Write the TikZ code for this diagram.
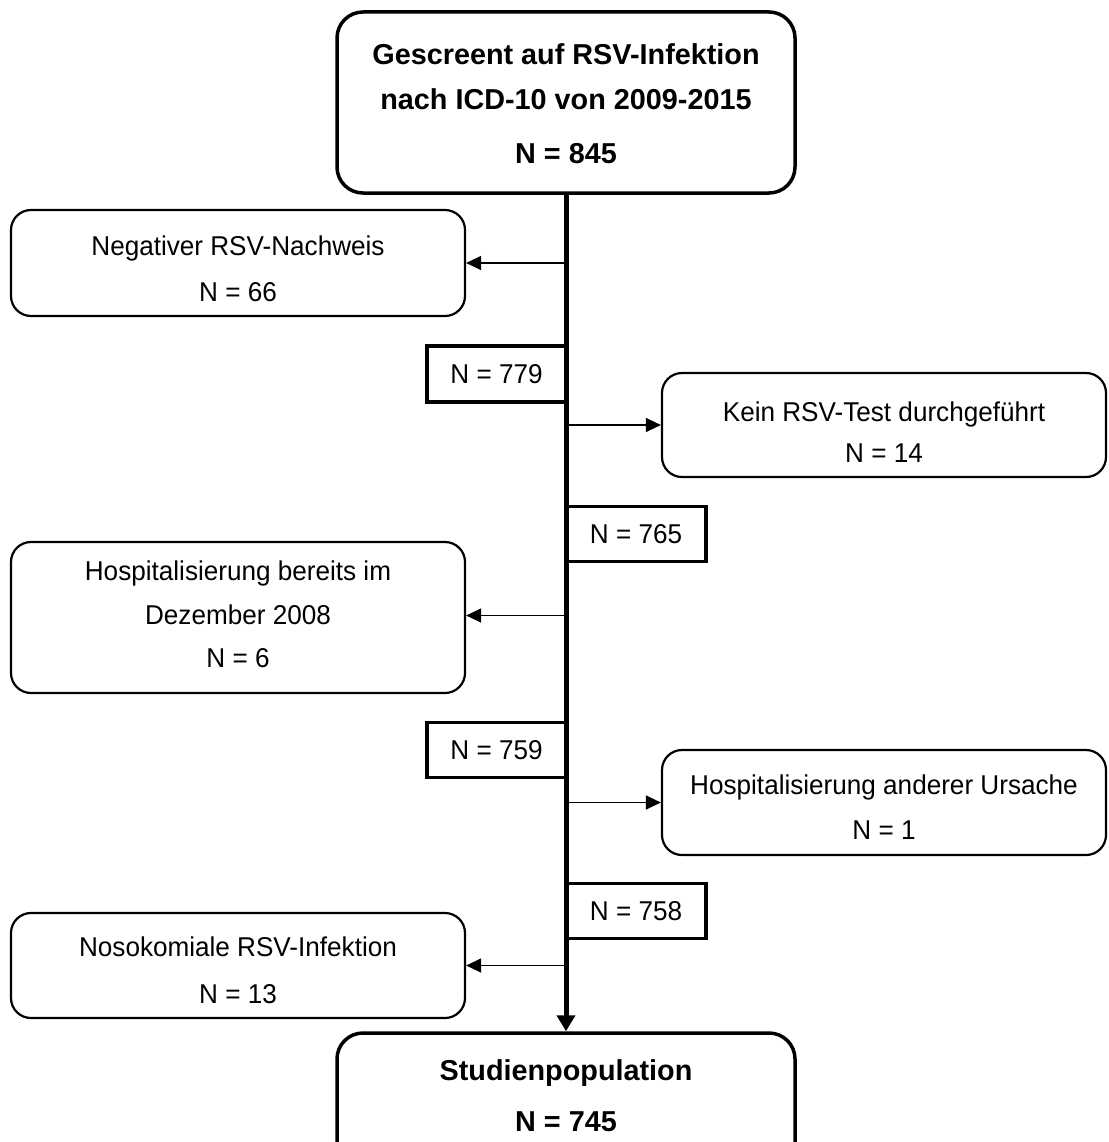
\documentclass[tikz,border=0pt]{standalone}
\usepackage{fontspec}
\setmainfont{Liberation Sans}
\newfontfamily\regfont[FakeStretch=0.96]{Liberation Sans}
\usetikzlibrary{arrows.meta,calc}
\begin{document}
\begin{tikzpicture}[x=1pt,y=-1pt,
  sidebox/.style={draw, line width=2.2pt, rounded corners=20pt, inner sep=0pt},
  bigbox/.style={draw, line width=3.5pt, rounded corners=26pt, inner sep=0pt},
  countbox/.style={draw, line width=3.5pt, inner sep=0pt, font=\regfont\fontsize{27.2}{30}\selectfont},
  txt/.style={align=center, inner sep=0pt},
  thinarrow/.style={line width=1.3pt, -{Triangle[length=15pt,width=14pt]}},
  mainarrow/.style={line width=5pt, -{Triangle[length=16pt,width=18pt]}}]
\useasboundingbox (0,0) rectangle (1108,1142);
\clip (0,0) rectangle (1108,1142);

% main boxes
\node[bigbox, minimum width=458pt, minimum height=181pt] (top) at (566,102.5) {};
\node[txt, font=\fontsize{28.8}{45}\selectfont\bfseries] (topT) at (566,104)
  {Gescreent auf RSV-Infektion\\nach ICD-10 von 2009-2015\\[9pt]N = 845};

\node[bigbox, minimum width=458pt, minimum height=180pt] (stud) at (566,1123) {};
\node[txt, font=\fontsize{28.8}{51}\selectfont\bfseries] (studT) at (566,1096)
  {Studienpopulation\\N = 745};

% side boxes
\node[sidebox, minimum width=454pt, minimum height=106pt] (neg) at (238,263) {};
\node[txt, font=\regfont\fontsize{27.2}{46}\selectfont] (negT) at (238,269)
  {Negativer RSV-Nachweis\\N = 66};

\node[sidebox, minimum width=444pt, minimum height=104pt] (kein) at (884,425) {};
\node[txt, font=\regfont\fontsize{27.2}{41}\selectfont] (keinT) at (884,432)
  {Kein RSV-Test durchgeführt\\N = 14};

\node[sidebox, minimum width=454pt, minimum height=151pt] (hosp) at (238,617.5) {};
\node[txt, font=\regfont\fontsize{27.2}{43.5}\selectfont] (hospT) at (238,614.5)
  {Hospitalisierung bereits im\\Dezember 2008\\N = 6};

\node[sidebox, minimum width=444pt, minimum height=105pt] (hospa) at (884,802.5) {};
\node[txt, font=\regfont\fontsize{27.2}{45}\selectfont] (hospaT) at (884,807)
  {Hospitalisierung anderer Ursache\\N = 1};

\node[sidebox, minimum width=454pt, minimum height=105pt] (noso) at (238,965.5) {};
\node[txt, font=\regfont\fontsize{27.2}{47}\selectfont] (nosoT) at (238,970)
  {Nosokomiale RSV-Infektion\\N = 13};

% count boxes
\node[countbox, minimum width=139pt, minimum height=56pt] (n779) at (496.5,374) {N = 779};
\node[countbox, minimum width=140pt, minimum height=55pt] (n765) at (636,534) {N = 765};
\node[countbox, minimum width=139pt, minimum height=55pt] (n759) at (496.5,750) {N = 759};
\node[countbox, minimum width=140pt, minimum height=55pt] (n758) at (636,911) {N = 758};

% connectors
\draw[mainarrow] (top.south) -- (stud.north);
\draw[thinarrow] (top.south |- neg.east) -- (neg.east);
\draw[thinarrow] (top.south |- kein.west) -- (kein.west);
\draw[thinarrow] ($(top.south |- hosp.east)+(0,-2)$) -- ($(hosp.east)+(0,-2)$);
\draw[thinarrow] (top.south |- hospa.west) -- (hospa.west);
\draw[thinarrow] (top.south |- noso.east) -- (noso.east);
\end{tikzpicture}
\end{document}
